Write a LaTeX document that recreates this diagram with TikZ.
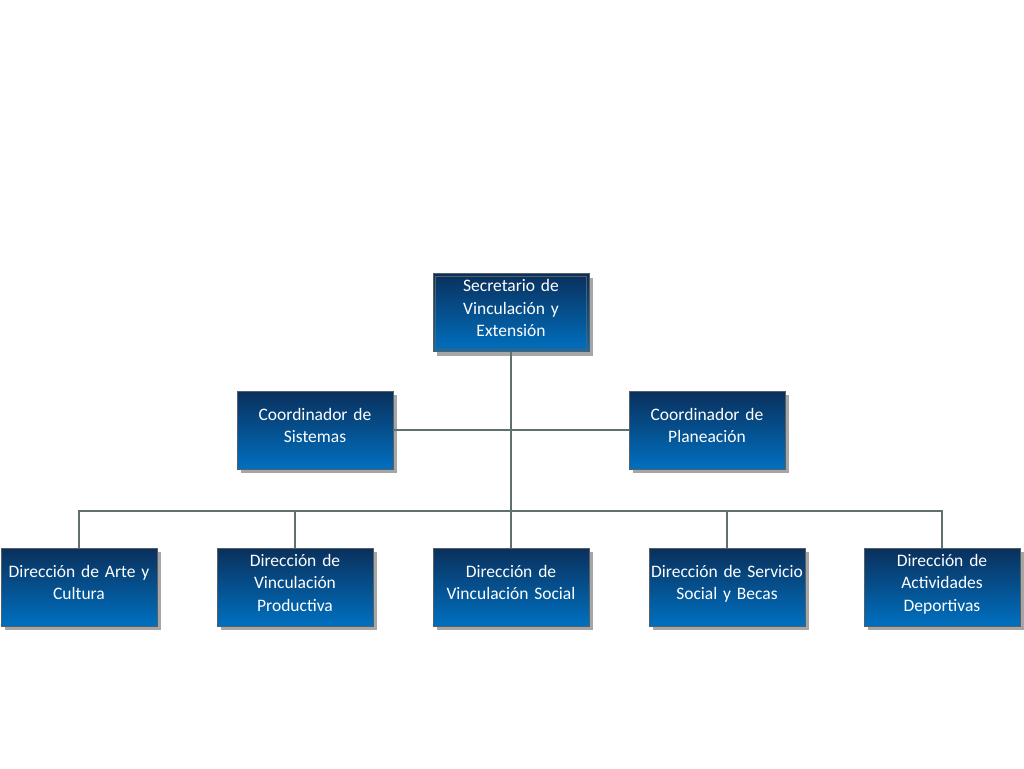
\documentclass[tikz,border=0pt]{standalone}
\usepackage{fontspec}
\setmainfont{Carlito}[WordSpace=0.8]
\usetikzlibrary{shadows}
\definecolor{boxtop}{RGB}{10,48,92}
\definecolor{boxbot}{RGB}{0,112,192}
\definecolor{linkc}{RGB}{95,112,112}
\definecolor{edgec}{RGB}{85,95,100}
\tikzset{
  orgbox/.style={draw=edgec, line width=0.9pt, top color=boxtop, bottom color=boxbot,
    minimum width=156pt, minimum height=78pt, text width=166pt, align=center,
    inner ysep=0pt, inner xsep=-5pt, text=white, font=\fontsize{17.5}{22.5}\selectfont,
    drop shadow={shadow xshift=4pt, shadow yshift=-4pt, fill=black!35, opacity=1},
    execute at end node={\rule[-9pt]{0pt}{9pt}}},
  link/.style={draw=linkc, line width=2.4pt}
}
\begin{document}
\begin{tikzpicture}[x=1pt,y=-1pt]
\useasboundingbox (0,0) rectangle (1024,768);
\node[orgbox] (top) at (511,312.5) {Secretario de\\Vinculación y\\Extensión};
\draw[edgec, line width=0.6pt] ([shift={(3,3)}]top.north west) rectangle ([shift={(-3,-3)}]top.south east);
\node[orgbox] (cs) at (315,430) {Coordinador de\\Sistemas};
\node[orgbox] (cp) at (707,430) {Coordinador de\\Planeación};
\node[orgbox] (b1) at (79,587) {Dirección de Arte y\\Cultura};
\node[orgbox] (b2) at (295,587) {Dirección de\\Vinculación\\Productiva};
\node[orgbox] (b3) at (511,587) {Dirección de\\Vinculación Social};
\node[orgbox] (b4) at (727,587) {Dirección de Servicio\\Social y Becas};
\node[orgbox] (b5) at (942,587) {Dirección de\\Actividades\\Deportivas};
\coordinate (bus) at (511,511);
\draw[link] (top.south) -- (b3.north);
\draw[link] (cs.east) -- (cp.west);
\draw[link] (b1.north) |- (bus) -| (b5.north);
\draw[link] (b2.north) -- (b2.north |- bus);
\draw[link] (b4.north) -- (b4.north |- bus);
\end{tikzpicture}
\end{document}
